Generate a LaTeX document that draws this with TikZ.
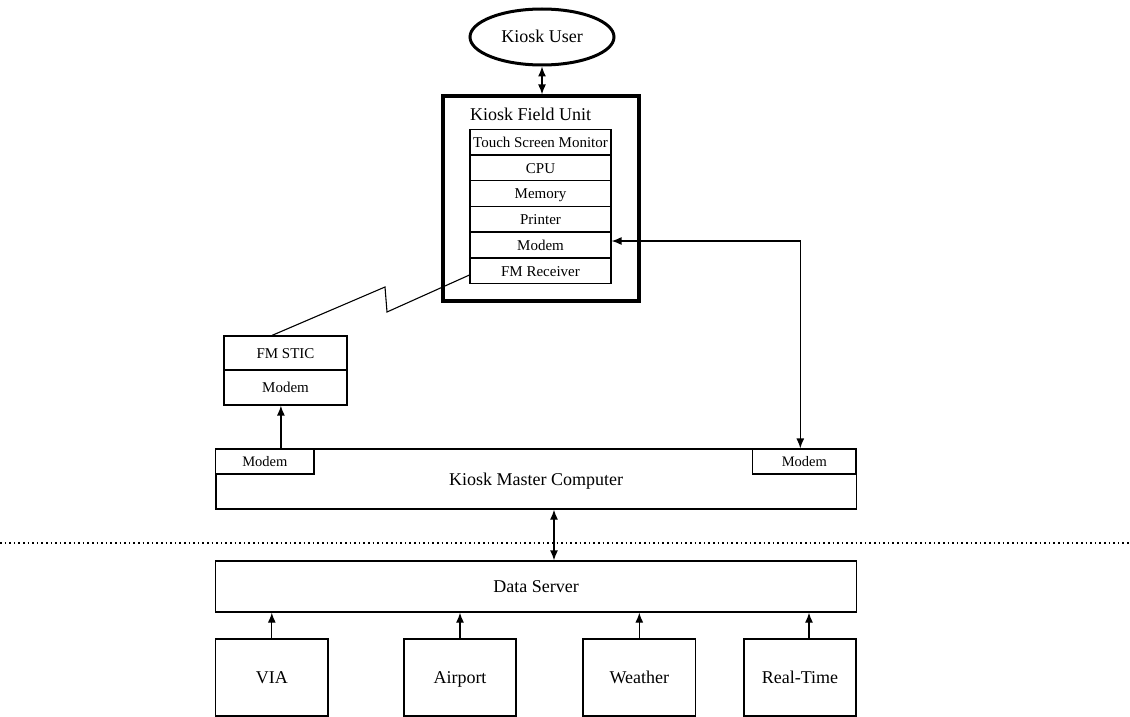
\documentclass[tikz,border=0pt]{standalone}
\usepackage{fontspec}
\setmainfont{Liberation Serif}
\usetikzlibrary{shapes.geometric,arrows.meta}
\begin{document}
\begin{tikzpicture}[x=1pt,y=-1pt,
  big/.style={font=\fontsize{18}{20}\selectfont, text height=13pt, text depth=1pt},
  small/.style={font=\fontsize{15}{17}\selectfont, text height=11pt, text depth=1pt},
  box/.style={draw, line width=1.3pt, inner sep=0pt, big},
  rowbox/.style={draw, line width=1.1pt, minimum width=141, minimum height=25.8, inner sep=0pt, small},
  heavybox/.style={draw, line width=3.2pt, inner sep=0pt},
  arr/.style={-{Latex[length=10pt,width=8pt]}, line width=1.3pt},
  darr/.style={{Latex[length=10pt,width=8pt]}-{Latex[length=10pt,width=8pt]}, line width=1.3pt}]
\useasboundingbox (0,0) rectangle (1130,717);

% Kiosk user
\node[draw, ellipse, line width=3pt, minimum width=144, minimum height=56, inner sep=0pt, big] (user) at (542,37) {Kiosk User};

% Kiosk field unit
\node[heavybox, minimum width=196, minimum height=205] (kfu) at (541,198.5) {};
\node[big, anchor=west, inner sep=0pt] (kfut) at (470,114) {Kiosk Field Unit};
\node[rowbox] (tsm) at (540.5,142) {Touch Screen Monitor};
\node[rowbox] (cpu) at (540.5,168) {CPU};
\node[rowbox] (mem) at (540.5,193.5) {Memory};
\node[rowbox] (prn) at (540.5,219) {Printer};
\node[rowbox] (mdm) at (540.5,245) {Modem};
\node[rowbox] (fmr) at (540.5,271) {FM Receiver};

\draw[darr] (user.south) -- (user.south |- kfu.north);

% FM STIC
\node[draw, line width=1.2pt, minimum width=123, minimum height=34, inner sep=0pt, small] (fms) at (285.5,353) {FM STIC};
\node[draw, line width=1.2pt, minimum width=123, minimum height=35, inner sep=0pt, small] (fmm) at (285.5,387.5) {Modem};

% lightning link
\coordinate (l1) at (385,287);
\coordinate (l2) at (387,312);
\draw[line width=1.1pt] ([xshift=-13.5pt]fms.north) -- (l1) -- (l2) -- ([yshift=-4pt]fmr.west);

% Kiosk master computer
\node[box, minimum width=640.3, minimum height=60] (kmc) at (536,479) {Kiosk Master Computer};
\node[draw, line width=1.2pt, fill=white, minimum width=98.3, minimum height=25, inner sep=0pt, small, font=\fontsize{14.5}{16}\selectfont] (ml) at (264.9,461.5) {Modem};
\node[draw, line width=1.2pt, fill=white, minimum width=103.3, minimum height=25, inner sep=0pt, small, font=\fontsize{14.5}{16}\selectfont] (mr) at (804.3,461.5) {Modem};

\draw[arr] ([xshift=16pt]ml.north) -- ([xshift=16pt]ml.north |- fmm.south);
\draw[darr] ([yshift=4pt]mdm.east) -| ([xshift=-4pt]mr.north);

% dotted separator
\coordinate (sepL) at (0,543);
\coordinate (sepR) at (1130,543);
\draw[line width=1.5pt, dash pattern=on 1.6pt off 3pt] (sepL) -- (sepR);

% Data server
\node[box, minimum width=641, minimum height=51] (ds) at (536.2,586.5) {Data Server};
\draw[darr] ([xshift=18pt]kmc.south) -- ([xshift=18pt]kmc.south |- ds.north);

% sources
\node[box, minimum width=112.3, minimum height=77] (via) at (271.8,677.5) {VIA};
\node[box, minimum width=112, minimum height=77] (air) at (460,677.5) {Airport};
\node[box, minimum width=112.5, minimum height=77] (wea) at (639.3,677.5) {Weather};
\node[box, minimum width=112, minimum height=77] (rt) at (800,677.5) {Real-Time};

\draw[arr] (via.north) -- (via.north |- ds.south);
\draw[arr] (air.north) -- (air.north |- ds.south);
\draw[arr] (wea.north) -- (wea.north |- ds.south);
\draw[arr] ([xshift=9pt]rt.north) -- ([xshift=9pt]rt.north |- ds.south);
\end{tikzpicture}
\end{document}
